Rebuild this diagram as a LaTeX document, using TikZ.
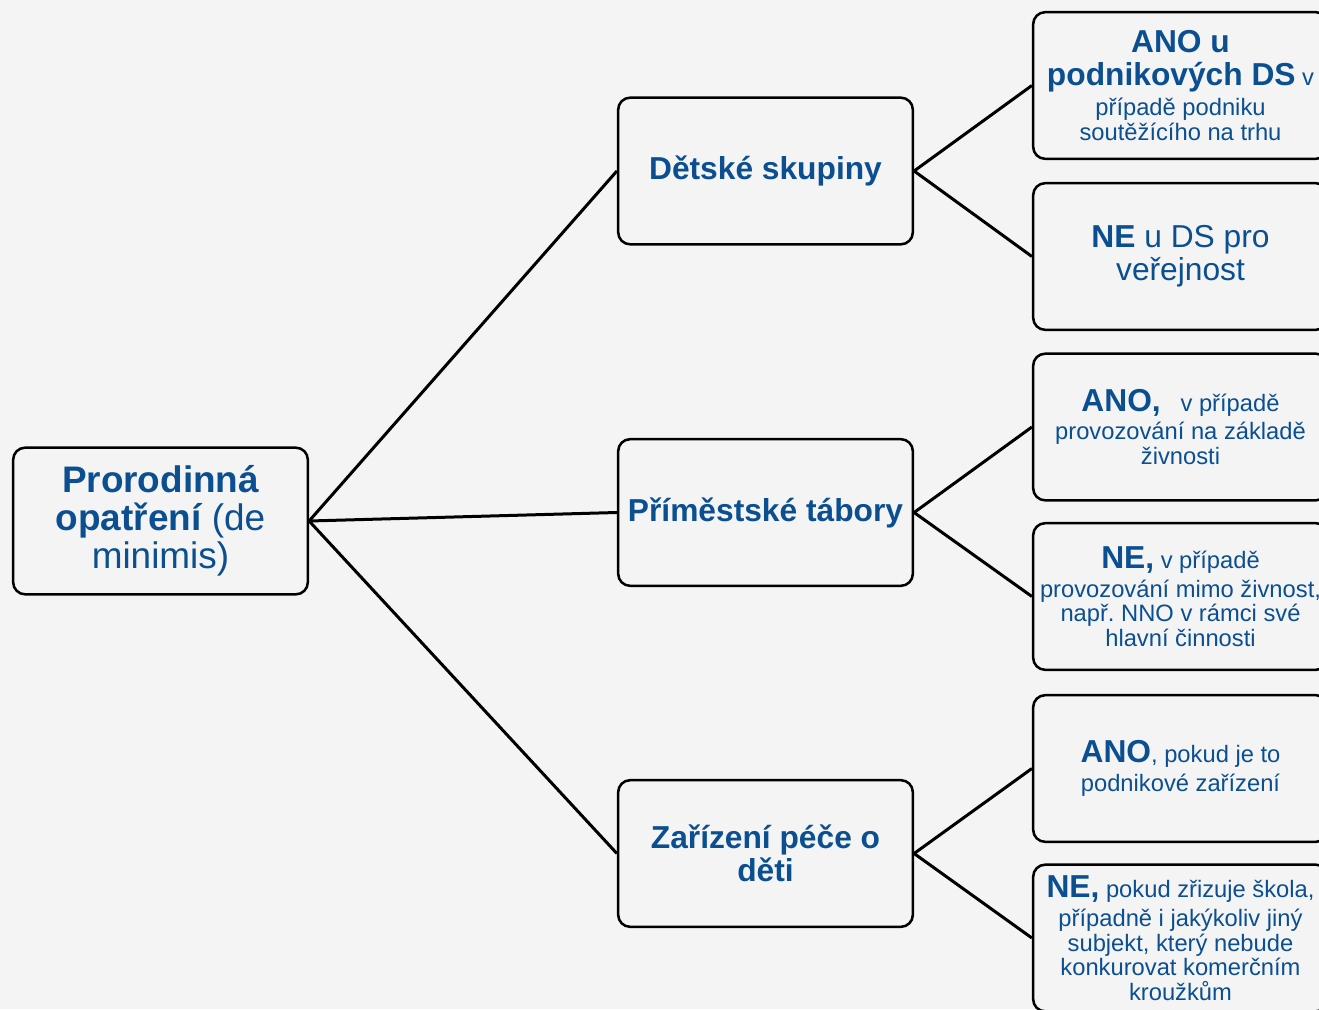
\documentclass[tikz,border=0pt]{standalone}
\usepackage{fontspec}
\setmainfont{Liberation Sans}
\frenchspacing

\definecolor{txtblue}{HTML}{0B4F91}
\definecolor{bggray}{HTML}{F4F4F4}

\newcommand{\bigb}{\fontsize{23.8}{24.75}\selectfont\bfseries}
\newcommand{\bign}{\fontsize{23.8}{24.75}\selectfont}
\newcommand{\smalln}{\fontsize{17.8}{18.4}\selectfont\lineskiplimit=-100pt}
\newcommand{\rootf}{\fontsize{27.7}{28.5}\selectfont\lineskiplimit=-100pt}

\begin{document}
\begin{tikzpicture}[x=0.75pt,y=-0.75pt]

        \tikzstyle{block} = [draw, fill=bggray, rectangle, rounded corners=9pt, line width=1.9pt, minimum width=221pt, minimum height=110pt, text=txtblue, align=center, inner sep=0pt]
        \tikzstyle{link} = [line width=2.25pt]

        \fill[bggray] (0,0) rectangle (1319,1009);
        \useasboundingbox (0,0) rectangle (1319,1009);

        % levy sloupec
        \node[block, font=\rootf] (n0) at (160.5,521) {{\bfseries Prorodinná}\\{\bfseries opatření} (de\\minimis)};

        % prostredni sloupec
        \node[block, font=\bigb] (n1) at (765.5,171)   {Dětské skupiny};
        \node[block, font=\bigb] (n2) at (765.5,512.5) {Příměstské tábory};
        \node[block, font=\bigb] (n3) at (765.5,853.5) {Zařízení péče o\\děti};

        % pravy sloupec
        \node[block, font=\smalln] (n11) at (1180.5,85.5) {{\bigb ANO u}\\[6.35pt]{\bigb podnikových DS} v\\[4.1pt]případě podniku\\soutěžícího na trhu};
        \node[block, font=\bign]   (n12) at (1180.5,256.5) {{\bfseries NE} u DS pro\\veřejnost};
        \node[block, font=\smalln] (n21) at (1180.5,427)  {{\bigb ANO,} \ \ v případě\\[2.6pt]provozování na základě\\živnosti};
        \node[block, font=\smalln] (n22) at (1180.5,596.5) {{\bigb NE,} v případě\\[3.35pt]provozování mimo živnost,\\např. NNO v rámci své\\hlavní činnosti};
        \node[block, font=\smalln] (n31) at (1180.5,768.5) {{\bigb ANO}, pokud je to\\[3.35pt]podnikové zařízení};
        \node[block, font=\smalln] (n32) at (1180.5,938)  {{\bigb NE,} pokud zřizuje škola,\\[3.35pt]případně i jakýkoliv jiný\\subjekt, který nebude\\konkurovat komerčním\\kroužkům};

        \draw[link] (n0.east) -- (n1.west);
        \draw[link] (n0.east) -- (n2.west);
        \draw[link] (n0.east) -- (n3.west);
        \draw[link] (n1.east) -- (n11.west);
        \draw[link] (n1.east) -- (n12.west);
        \draw[link] (n2.east) -- (n21.west);
        \draw[link] (n2.east) -- (n22.west);
        \draw[link] (n3.east) -- (n31.west);
        \draw[link] (n3.east) -- (n32.west);
    \end{tikzpicture}
\end{document}
